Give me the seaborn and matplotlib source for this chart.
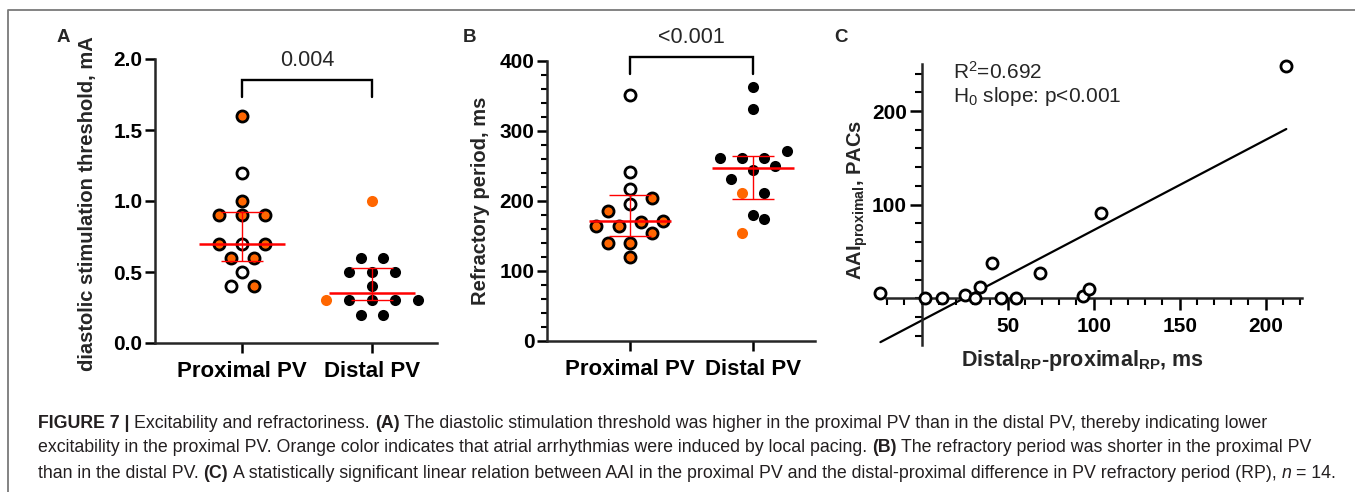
import numpy as np
import pandas as pd
import matplotlib
matplotlib.use('Agg')
import matplotlib.pyplot as plt
import seaborn as sns
from matplotlib.ticker import MultipleLocator, FixedLocator, FormatStrFormatter
from matplotlib.lines import Line2D

# data
sites = ['Proximal PV', 'Distal PV']

thr_prox = [1.6, 1.2, 1.0, 0.9, 0.9, 0.9, 0.7, 0.7, 0.7, 0.6, 0.6, 0.5, 0.4, 0.4]
thr_prox_induced = [1, 0, 1, 1, 1, 1, 1, 0, 1, 1, 1, 0, 0, 1]
thr_dist = [1.0, 0.6, 0.6, 0.5, 0.5, 0.5, 0.4, 0.3, 0.3, 0.3, 0.3, 0.3, 0.2, 0.2]
thr_dist_induced = [1, 0, 0, 0, 0, 0, 0, 1, 0, 0, 0, 0, 0, 0]

rp_prox = [351, 241, 217, 205, 196, 186, 172, 170, 164, 164, 154, 140, 140, 120]
rp_prox_induced = [0, 0, 0, 1, 0, 1, 1, 1, 1, 1, 1, 1, 1, 1]
rp_dist = [363, 331, 271, 262, 262, 261, 250, 244, 232, 211, 211, 180, 174, 155]
rp_dist_induced = [0, 0, 0, 0, 0, 0, 0, 0, 0, 1, 0, 0, 0, 1]

rp_diff = [-24, 2, 12, 25, 31, 34, 41, 46, 55, 69, 94, 97, 104, 212]
aai_prox = [6, 0, 0, 4, 0, 12, 38, 0, 0, 27, 2, 10, 91, 248]

p_thr = '0.004'
p_rp = '<0.001'
r2_text = 'R$^2$=0.692'
slope_text = 'H$_0$ slope: p<0.001'

caption = [
    [('FIGURE 7 |', 'bold', 'normal'), ('Excitability and refractoriness.', 'normal', 'normal'),
     ('(A)', 'bold', 'normal'),
     ('The diastolic stimulation threshold was higher in the proximal PV than in the distal PV, thereby indicating lower',
      'normal', 'normal')],
    [('excitability in the proximal PV. Orange color indicates that atrial arrhythmias were induced by local pacing.',
      'normal', 'normal'), ('(B)', 'bold', 'normal'),
     ('The refractory period was shorter in the proximal PV', 'normal', 'normal')],
    [('than in the distal PV.', 'normal', 'normal'), ('(C)', 'bold', 'normal'),
     ('A statistically significant linear relation between AAI in the proximal PV and the distal-proximal difference in PV refractory period (RP),',
      'normal', 'normal'), ('n', 'normal', 'italic'), ('= 14.', 'normal', 'normal')],
]

ORANGE = '#ff6600'
RED = '#ff0000'

sns.set_style('ticks')
plt.rcParams['font.family'] = ['Liberation Sans', 'DejaVu Sans']
plt.rcParams['font.weight'] = 'bold'
plt.rcParams['axes.labelweight'] = 'bold'
plt.rcParams['mathtext.default'] = 'regular'
plt.rcParams['axes.linewidth'] = 1.8
for a in ['xtick', 'ytick']:
    plt.rcParams[a + '.major.width'] = 1.8
    plt.rcParams[a + '.minor.width'] = 1.5
    plt.rcParams[a + '.color'] = 'black'
    plt.rcParams[a + '.labelsize'] = 15

W, H = 1355, 492
fig = plt.figure(figsize=(W / 100, H / 100), dpi=100)


def px_box(x0, y0, x1, y1):
    return [x0 / W, 1 - y1 / H, (x1 - x0) / W, (y1 - y0) / H]


axA = fig.add_axes(px_box(155, 59, 437, 343))
axB = fig.add_axes(px_box(547, 61, 815, 341))
axC = fig.add_axes(px_box(878.7, 64.2, 1303.5, 345.1))


def row_offsets(values, bin_h, step):
    # GraphPad-like scatter: points in the same value row are spread symmetrically
    vals = np.asarray(values, float)
    offs = np.zeros(len(vals))
    groups, start = [], None
    for idx in np.argsort(vals, kind='stable'):
        if start is None or vals[idx] - start >= bin_h:
            groups.append([idx])
            start = vals[idx]
        else:
            groups[-1].append(idx)
    for g in groups:
        for j, idx in enumerate(g):
            offs[idx] = (j - (len(g) - 1) / 2) * step
    return offs


def kind_of(site_idx, induced):
    if induced:
        return 'orange_edge' if site_idx == 0 else 'orange'
    return 'open' if site_idx == 0 else 'black'


styles = {
    'open': ('white', 'black', 2.0),
    'orange_edge': (ORANGE, 'black', 2.0),
    'orange': (ORANGE, ORANGE, 0.0),
    'black': ('black', 'black', 0.0),
}


def dot_panel(ax, groups, bin_h, step, ylim):
    rows = []
    for i, (vals, ind) in enumerate(groups):
        offs = row_offsets(vals, bin_h, step)
        for v, f, o in zip(vals, ind, offs):
            rows.append(dict(site=sites[i], pos=i + o, value=v, kind=kind_of(i, f)))
    df = pd.DataFrame(rows)
    for k, (face, edge, lw) in styles.items():
        sub = df[df['kind'] == k]
        if len(sub):
            sns.scatterplot(data=sub, x='pos', y='value', color=face, edgecolor=edge,
                            linewidth=lw, s=64, ax=ax, zorder=3, clip_on=False, legend=False)
    for i, site in enumerate(sites):
        vals = df.loc[df['site'] == site, 'value'].values
        q1, med, q3 = np.percentile(vals, [25, 50, 75], method='weibull')
        ax.hlines(med, i - 0.33, i + 0.33, color=RED, lw=1.8, zorder=5)
        ax.errorbar(i, med, yerr=[[med - q1], [q3 - med]], fmt='none', ecolor=RED,
                    elinewidth=1.0, capsize=14.8, capthick=1.0, zorder=5)
    ax.set_xticks([0, 1], sites, fontsize=16)
    ax.set_xlim(-0.67, 1.5)
    ax.set_ylim(ylim)
    ax.set_xlabel('')
    sns.despine(ax=ax)
    ax.tick_params(axis='x', length=7, pad=6)
    ax.tick_params(axis='y', which='major', length=7, pad=2)
    ax.tick_params(axis='y', which='minor', length=4)


dot_panel(axA, [(thr_prox, thr_prox_induced), (thr_dist, thr_dist_induced)], 0.05, 0.176, (0, 2.0))
dot_panel(axB, [(rp_prox, rp_prox_induced), (rp_dist, rp_dist_induced)], 20, 0.18, (0, 400))

axA.yaxis.set_major_locator(MultipleLocator(0.5))
axA.yaxis.set_major_formatter(FormatStrFormatter('%.1f'))
axA.set_ylabel('diastolic stimulation threshold, mA', fontsize=14.5)
axA.yaxis.set_label_coords(-0.205, 0.49)

axB.yaxis.set_major_locator(MultipleLocator(100))
axB.yaxis.set_minor_locator(MultipleLocator(20))
axB.set_ylabel('Refractory period, ms', fontsize=14.5)
axB.yaxis.set_label_coords(-0.213, 0.5)

# significance brackets
for ax, y_leg, y_top, y_txt, txt in [(axA, 1.735, 1.852, 1.99, p_thr),
                                     (axB, 381, 405.7, 433, p_rp)]:
    ax.plot([0, 0, 1, 1], [y_leg, y_top, y_top, y_leg], color='black', lw=1.7,
            clip_on=False, solid_joinstyle='miter')
    ax.text(0.5, y_txt, txt, ha='center', va='center', fontsize=15.5, fontweight='normal')

# panel C
sns.regplot(x=np.array(rp_diff), y=np.array(aai_prox), ci=None, truncate=True, color='black',
            ax=axC, scatter_kws=dict(s=64, facecolors='white', edgecolors='black',
                                     linewidths=2.0, alpha=1, clip_on=False, zorder=3),
            line_kws=dict(lw=1.6))
axC.set_xlim(-25, 222)
axC.set_ylim(-50, 250)
for s in ['top', 'right']:
    axC.spines[s].set_visible(False)
axC.spines['left'].set_position(('data', 0))
axC.spines['bottom'].set_position(('data', 0))
axC.spines['left'].set_bounds(-50, 250)
axC.spines['bottom'].set_bounds(-21, 221)
axC.xaxis.set_major_locator(FixedLocator([50, 100, 150, 200]))
axC.xaxis.set_minor_locator(MultipleLocator(10))
axC.yaxis.set_major_locator(FixedLocator([100, 200]))
axC.yaxis.set_minor_locator(MultipleLocator(20))
axC.tick_params(axis='both', which='major', length=8.5)
axC.tick_params(axis='both', which='minor', length=5)
axC.tick_params(axis='x', which='major', pad=5)
axC.tick_params(axis='y', which='major', pad=2)
axC.set_ylabel('AAI$_{proximal}$, PACs', fontsize=14.5)
axC.yaxis.set_label_coords(-0.02, 0.517)
axC.set_xlabel('Distal$_{RP}$-proximal$_{RP}$, ms', fontsize=15.5)
axC.xaxis.set_label_coords(0.48, -0.055)
axC.xaxis.label.set_va('center')

fig.text(953 / W, 1 - 72 / H, r2_text, fontsize=15, fontweight='normal', va='center')
fig.text(953 / W, 1 - 96 / H, slope_text, fontsize=15, fontweight='normal', va='center')

# panel letters
for x, letter in [(63, 'A'), (470, 'B'), (841, 'C')]:
    fig.text(x / W, 1 - 38 / H, letter, fontsize=13.5, fontweight='bold', ha='center', va='center')

# frame around the figure
fig.add_artist(Line2D([8 / W, 8 / W, 1], [0, 1 - 10 / H, 1 - 10 / H], color='#7a7a7a', lw=1.3,
                      transform=fig.transFigure))

# caption with mixed weights
renderer = fig.canvas.get_renderer()
cap_color = '#231f20'


def text_w(s, size, weight, style):
    t = fig.text(0, 0, s, fontsize=size, fontweight=weight, fontstyle=style)
    w = t.get_window_extent(renderer).width
    t.remove()
    return w


def line_w(parts, size):
    space = text_w('a a', size, 'normal', 'normal') - text_w('aa', size, 'normal', 'normal')
    return sum(text_w(p[0], size, p[1], p[2]) for p in parts) + space * (len(parts) - 1)


cap_size = 11.0
cap_size *= (1337 - 38) / line_w(caption[2], cap_size)
space = text_w('a a', cap_size, 'normal', 'normal') - text_w('aa', cap_size, 'normal', 'normal')
for row, y in zip(caption, [423, 448, 473]):
    x = 38
    for s, weight, style in row:
        t = fig.text(x / W, 1 - y / H, s, fontsize=cap_size, fontweight=weight,
                     fontstyle=style, color=cap_color, va='center', ha='left')
        x += t.get_window_extent(renderer).width + space

fig.savefig('out.png', dpi=100)
